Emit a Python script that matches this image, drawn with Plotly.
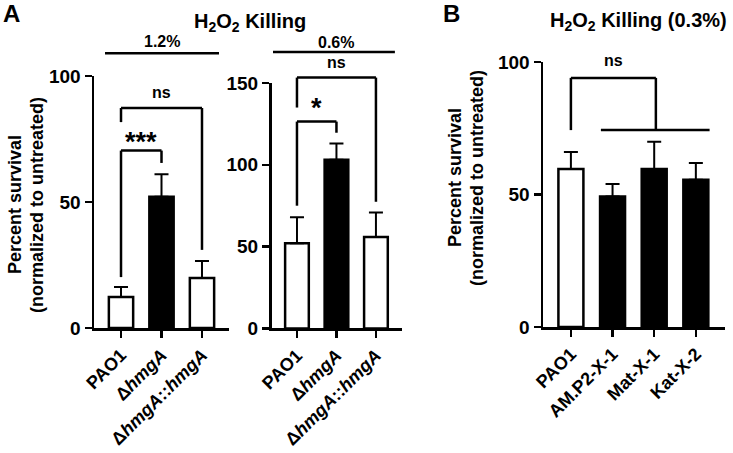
import plotly.graph_objects as go

W, H = 733, 453

# ---------------- data ----------------
strains_A = ["PAO1", "Δ<i>hmgA</i>", "Δ<i>hmgA</i>::<i>hmgA</i>"]
surv_12 = [12.3, 52.1, 19.8]
sd_12 = [4.0, 8.9, 6.8]
surv_06 = [52.1, 103.1, 55.8]
sd_06 = [15.9, 9.9, 15.1]

strains_B = ["PAO1", "AM.P2-X-1", "Mat-X-1", "Kat-X-2"]
surv_03 = [59.6, 49.2, 59.6, 55.6]
sd_03 = [6.4, 4.8, 10.3, 6.3]

yticks_A1 = [0, 50, 100]
yticks_A2 = [0, 50, 100, 150]
yticks_B = [0, 50, 100]

FONT = "Liberation Sans, Arial, Helvetica, sans-serif"

# ---------------- panel geometry (pixels) ----------------
panels = {
    "A1": dict(xpx=(94, 229), ypx=(328, 76), xr=(-0.667, 2.667), yr=(0, 100), ax="x", ay="y"),
    "A2": dict(xpx=(271.5, 402), ypx=(328.4, 83), xr=(-0.645, 2.66), yr=(0, 150), ax="x2", ay="y2"),
    "B": dict(xpx=(543, 725), ypx=(327, 62), xr=(-0.67, 3.7), yr=(0, 100), ax="x3", ay="y3"),
}


def to_paper(p, xv, yv):
    x0, x1 = p["xpx"]
    y0, y1 = p["ypx"]
    r0, r1 = p["xr"]
    s0, s1 = p["yr"]
    px = x0 + (xv - r0) / (r1 - r0) * (x1 - x0)
    py = y0 + (yv - s0) / (s1 - s0) * (y1 - y0)
    return px / W, 1 - py / H


fig = go.Figure()

fill_A = ["white", "black", "white"]
fill_B = ["white", "black", "black", "black"]


def add_bars(cats, vals, errs, fills, key):
    p = panels[key]
    fig.add_trace(go.Bar(
        x=cats, y=vals,
        xaxis=p["ax"], yaxis=p["ay"],
        width=0.6,
        marker=dict(color=fills, line=dict(color="black", width=2.5)),
        error_y=dict(type="data", array=errs, arrayminus=[0] * len(errs), symmetric=False,
                     color="black", thickness=2, width=7),
        showlegend=False,
    ))


add_bars(strains_A, surv_12, sd_12, fill_A, "A1")
add_bars(strains_A, surv_06, sd_06, fill_A, "A2")
add_bars(strains_B, surv_03, sd_03, fill_B, "B")

axis_common = dict(
    showline=True, linewidth=2.5, linecolor="black",
    ticks="outside", ticklen=7, tickwidth=2.5, tickcolor="black",
    showgrid=False, zeroline=False, fixedrange=True, automargin=False,
)

layout_axes = {}
for i, (key, ticks) in enumerate([("A1", yticks_A1), ("A2", yticks_A2), ("B", yticks_B)]):
    p = panels[key]
    sfx = "" if i == 0 else str(i + 1)
    xd = (p["xpx"][0] / W, p["xpx"][1] / W)
    yd = (1 - p["ypx"][0] / H, 1 - p["ypx"][1] / H)
    layout_axes["xaxis" + sfx] = dict(axis_common, domain=xd, range=list(p["xr"]),
                                      type="category", tickangle=-45,
                                      tickfont=dict(family=FONT, size=18, color="black", weight="bold"),
                                      anchor="y" + sfx)
    layout_axes["yaxis" + sfx] = dict(axis_common, domain=yd, range=list(p["yr"]),
                                      tickvals=ticks,
                                      tickfont=dict(family=FONT, size=19, color="black", weight="bold"),
                                      anchor="x" + sfx)

fig.update_layout(**layout_axes)

# ---------------- brackets / annotations ----------------
shapes = []
annots = []


def seg(key, xa, ya, xb, yb, w=2.5):
    p = panels[key]
    x0, y0 = to_paper(p, xa, ya)
    x1, y1 = to_paper(p, xb, yb)
    shapes.append(dict(type="line", xref="paper", yref="paper", x0=x0, y0=y0, x1=x1, y1=y1,
                       line=dict(color="black", width=w)))


def bracket(key, xl, xr, ytop, ybl, ybr):
    seg(key, xl, ytop, xr, ytop)
    seg(key, xl, ytop, xl, ybl)
    seg(key, xr, ytop, xr, ybr)


def text(key, xv, yv, t, size=16):
    p = panels[key]
    x, y = to_paper(p, xv, yv)
    annots.append(dict(xref="paper", yref="paper", x=x, y=y, text=t, showarrow=False,
                       xanchor="center", yanchor="middle",
                       font=dict(family=FONT, size=size, color="black", weight="bold")))


# panel A, 1.2%
bracket("A1", 0, 1, 70.4, 20.2, 65.5)
bracket("A1", 0, 2, 87.3, 81.7, 31.0)
text("A1", 0.5, 74.0, "***", 27)
text("A1", 1, 93.5, "ns", 16)
seg("A1", -0.395, 109, 2.42, 109)
text("A1", 1.0, 113.5, "1.2%", 16)

# panel A, 0.6%
bracket("A2", 0, 2, 153.3, 135, 77.4)
bracket("A2", 0, 1, 126.4, 75, 119.6)
text("A2", 1, 162.5, "ns", 16)
text("A2", 0.5, 135, "*", 27)
seg("A2", -0.607, 169, 2.48, 169)
text("A2", 1.0, 175, "0.6%", 16)

# panel B
bracket("B", 0, 2.04, 94, 74.3, 74.3)
seg("B", 0.72, 74.3, 3.33, 74.3)
text("B", 1.02, 100.5, "ns", 16)


def ptext(px, py, t, size, angle=0):
    annots.append(dict(xref="paper", yref="paper", x=px / W, y=1 - py / H, text=t, showarrow=False,
                       xanchor="center", yanchor="middle", textangle=angle,
                       font=dict(family=FONT, size=size, color="black", weight="bold")))


ptext(250, 22, "H<sub>2</sub>O<sub>2</sub> Killing", 20)
ptext(638, 21, "H<sub>2</sub>O<sub>2</sub> Killing (0.3%)", 20)
ptext(11, 13, "A", 24)
ptext(451, 13, "B", 24)
ptext(15, 205, "Percent survival", 18, -90)
ptext(37, 205, "(normalized to untreated)", 18, -90)
ptext(455, 178, "Percent survival", 18, -90)
ptext(477, 178, "(normalized to untreated)", 18, -90)

fig.update_layout(
    template="none",
    width=W, height=H,
    margin=dict(l=0, r=0, t=0, b=0, pad=0),
    paper_bgcolor="white", plot_bgcolor="white",
    shapes=shapes, annotations=annots,
    font=dict(family=FONT, color="black"),
)

fig.write_html("out.html",
               config={"displayModeBar": False, "staticPlot": True},
               post_script="document.body.style.margin='0px';document.body.style.padding='0px';")
